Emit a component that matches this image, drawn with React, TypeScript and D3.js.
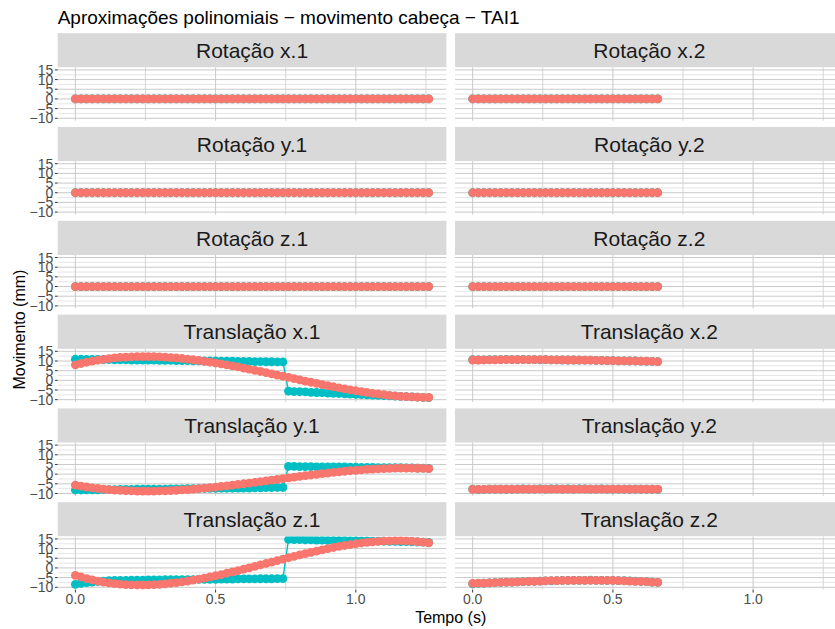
import React from "react";
import * as d3 from "d3";

// ---------------- data ----------------
const STEP = 0.02;
const timeRun1 = d3.range(64).map((i) => Math.round(i * STEP * 100) / 100);
const timeRun2 = d3.range(34).map((i) => Math.round(i * STEP * 100) / 100);

const facetNames = ["Rotação x", "Rotação y", "Rotação z", "Translação x", "Translação y", "Translação z"];
const runSuffixes = [".1", ".2"];
const seriesNames = ["medido", "aproximação"];
const seriesColors = ["#00BFC4", "#F8766D"];

const yLimits = [-10, 15];
const yTickValues = [-10, -5, 0, 5, 10, 15];
const yTickLabels = ["\u221210", "\u22125", "0", "5", "10", "15"];
const xTickValues = [0, 0.5, 1.0];
const xTickLabels = ["0.0", "0.5", "1.0"];

const rotationRun1 = Array(64).fill(0);
const rotationRun2 = Array(34).fill(0);

const transX1Observed = [
  10.9, 10.9, 10.8, 10.8, 10.8, 10.7, 10.7, 10.6, 10.6, 10.6, 10.5, 10.5, 10.4, 10.4, 10.4, 10.3, 10.3, 10.3, 10.2,
  10.2, 10.2, 10.1, 10.1, 10.0, 10.0, 10.0, 9.9, 9.9, 9.9, 9.8, 9.8, 9.8, 9.7, 9.7, 9.6, 9.6, 9.5, 9.5,
  -5.6, -5.8, -5.9, -6.0, -6.2, -6.3, -6.4, -6.6, -6.7, -6.8, -7.0, -7.1, -7.2, -7.4, -7.5, -7.6, -7.8, -7.9, -8.0,
  -8.2, -8.3, -8.4, -8.6, -8.7, -8.8, -8.9,
];
const transX1Fitted = [
  8.0, 8.71, 9.36, 9.93, 10.44, 10.88, 11.26, 11.57, 11.83, 12.03, 12.17, 12.26, 12.3, 12.29, 12.23, 12.12, 11.97,
  11.78, 11.55, 11.28, 10.97, 10.63, 10.26, 9.85, 9.42, 8.96, 8.48, 7.98, 7.45, 6.91, 6.34, 5.77, 5.18, 4.58, 3.97,
  3.36, 2.74, 2.11, 1.49, 0.86, 0.24, -0.38, -0.99, -1.59, -2.18, -2.76, -3.32, -3.87, -4.39, -4.9, -5.39, -5.85,
  -6.29, -6.7, -7.07, -7.42, -7.73, -8.01, -8.25, -8.45, -8.6, -8.72, -8.78, -8.8,
];
const transY1Observed = [
  -8.2, -8.2, -8.1, -8.1, -8.1, -8.0, -8.0, -8.0, -7.9, -7.9, -7.9, -7.8, -7.8, -7.8, -7.7, -7.7, -7.7, -7.6, -7.6,
  -7.6, -7.5, -7.5, -7.5, -7.4, -7.4, -7.4, -7.3, -7.3, -7.3, -7.2, -7.2, -7.2, -7.1, -7.1, -7.0, -7.0, -6.9, -6.9,
  4.0, 4.0, 3.9, 3.9, 3.9, 3.8, 3.8, 3.8, 3.7, 3.7, 3.7, 3.6, 3.6, 3.5, 3.5, 3.5, 3.4, 3.4, 3.3, 3.3, 3.3, 3.2, 3.2,
  3.1, 3.1, 3.0,
];
const transY1Fitted = [
  -5.7, -6.21, -6.66, -7.07, -7.43, -7.75, -8.02, -8.25, -8.43, -8.58, -8.69, -8.76, -8.79, -8.8, -8.76, -8.7, -8.61,
  -8.49, -8.34, -8.16, -7.97, -7.75, -7.5, -7.24, -6.96, -6.67, -6.35, -6.03, -5.69, -5.34, -4.98, -4.61, -4.24,
  -3.86, -3.48, -3.09, -2.7, -2.32, -1.93, -1.55, -1.18, -0.81, -0.44, -0.09, 0.25, 0.58, 0.9, 1.2, 1.48, 1.75, 2.0,
  2.23, 2.43, 2.61, 2.77, 2.9, 3.0, 3.07, 3.11, 3.12, 3.09, 3.03, 2.94, 2.8,
];
const transZ1Observed = [
  -8.5, -8.0, -7.6, -7.3, -7.0, -6.8, -6.6, -6.5, -6.4, -6.4, -6.3, -6.3, -6.3, -6.2, -6.2, -6.2, -6.1, -6.1, -6.1,
  -6.0, -6.0, -6.0, -5.9, -5.9, -5.9, -5.9, -5.8, -5.8, -5.8, -5.7, -5.7, -5.7, -5.7, -5.6, -5.6, -5.6, -5.5, -5.5,
  14.7, 14.6, 14.6, 14.5, 14.5, 14.4, 14.4, 14.3, 14.3, 14.2, 14.2, 14.1, 14.1, 14.0, 14.0, 13.9, 13.9, 13.8, 13.7,
  13.7, 13.6, 13.6, 13.5, 13.4, 13.3, 13.2,
];
const transZ1Fitted = [
  -3.8, -4.69, -5.48, -6.19, -6.8, -7.33, -7.77, -8.13, -8.41, -8.62, -8.76, -8.82, -8.82, -8.76, -8.64, -8.45,
  -8.21, -7.92, -7.58, -7.2, -6.76, -6.29, -5.78, -5.24, -4.66, -4.05, -3.41, -2.75, -2.07, -1.38, -0.66, 0.06, 0.8,
  1.55, 2.29, 3.04, 3.79, 4.53, 5.27, 5.99, 6.71, 7.4, 8.08, 8.74, 9.37, 9.98, 10.56, 11.1, 11.6, 12.07, 12.5, 12.89,
  13.22, 13.51, 13.74, 13.92, 14.04, 14.09, 14.1, 14.01, 13.88, 13.65, 13.37, 13.01,
];
const transX2Observed = [
  10.7, 10.6, 10.6, 10.7, 10.7, 10.7, 10.8, 10.7, 10.7, 10.8, 10.7, 10.7, 10.6, 10.7, 10.6, 10.6, 10.5, 10.5, 10.5,
  10.4, 10.4, 10.4, 10.3, 10.3, 10.2, 10.2, 10.1, 10.1, 10.0, 10.0, 9.9, 9.8, 9.8, 9.7,
];
const transX2Fitted = [
  10.5, 10.5, 10.6, 10.6, 10.6, 10.7, 10.7, 10.7, 10.7, 10.7, 10.7, 10.7, 10.7, 10.7, 10.6, 10.6, 10.6, 10.5, 10.5,
  10.5, 10.4, 10.4, 10.3, 10.3, 10.2, 10.2, 10.1, 10.1, 10.0, 10.0, 9.9, 9.9, 9.8, 9.7,
];
const transY2Observed = [
  -7.8, -8.0, -7.9, -7.8, -7.8, -7.7, -7.8, -7.7, -7.7, -7.6, -7.7, -7.7, -7.6, -7.7, -7.6, -7.6, -7.7, -7.6, -7.7,
  -7.6, -7.6, -7.7, -7.7, -7.6, -7.7, -7.7, -7.7, -7.7, -7.8, -7.7, -7.8, -7.8, -7.8, -7.9,
];
const transY2Fitted = [
  -7.9, -7.9, -7.9, -7.8, -7.8, -7.8, -7.8, -7.8, -7.7, -7.7, -7.7, -7.7, -7.7, -7.7, -7.7, -7.7, -7.7, -7.7, -7.7,
  -7.7, -7.7, -7.7, -7.7, -7.7, -7.7, -7.7, -7.7, -7.8, -7.8, -7.8, -7.8, -7.8, -7.8, -7.8,
];
const transZ2Observed = [
  -8.2, -8.0, -7.8, -7.7, -7.6, -7.5, -7.4, -7.3, -7.2, -7.1, -7.0, -6.9, -6.8, -6.7, -6.7, -6.6, -6.5, -6.5, -6.4,
  -6.4, -6.4, -6.3, -6.4, -6.4, -6.5, -6.5, -6.6, -6.6, -6.7, -6.8, -7.0, -7.1, -7.3, -7.5,
];
const transZ2Fitted = [
  -8.0, -7.9, -7.8, -7.7, -7.6, -7.5, -7.4, -7.3, -7.2, -7.1, -7.0, -6.9, -6.8, -6.7, -6.6, -6.6, -6.5, -6.5, -6.4,
  -6.4, -6.4, -6.4, -6.4, -6.4, -6.5, -6.5, -6.6, -6.7, -6.8, -6.9, -7.0, -7.1, -7.3, -7.5,
];

// [row][col] -> [observed, fitted]
const panelSeries: number[][][][] = [
  [[rotationRun1, rotationRun1], [rotationRun2, rotationRun2]],
  [[rotationRun1, rotationRun1], [rotationRun2, rotationRun2]],
  [[rotationRun1, rotationRun1], [rotationRun2, rotationRun2]],
  [[transX1Observed, transX1Fitted], [transX2Observed, transX2Fitted]],
  [[transY1Observed, transY1Fitted], [transY2Observed, transY2Fitted]],
  [[transZ1Observed, transZ1Fitted], [transZ2Observed, transZ2Fitted]],
];
const runTimes = [timeRun1, timeRun2];

const titleText = "Aproximações polinomiais \u2212 movimento cabeça \u2212 TAI1";
const xTitle = "Tempo (s)";
const yTitle = "Movimento (mm)";

// ---------------- layout ----------------
const W = 835;
const H = 629;
const COL_X = [57.7, 455];
const PANEL_W = 388.7;
const FIRST_STRIP = 33.2;
const ROW_PITCH = 93.8;
const STRIP_H = 34.3;
const PANEL_H = 53.2;
const FONT = "'Liberation Sans', Arial, Helvetica, sans-serif";

export default function App() {
  const allX = runTimes.flat();
  const [x0, x1] = d3.extent(allX) as [number, number];
  const xPad = (x1 - x0) * 0.05;
  const yPad = (yLimits[1] - yLimits[0]) * 0.05;
  const x = d3.scaleLinear().domain([x0 - xPad, x1 + xPad]).range([0, PANEL_W]);
  const y = d3.scaleLinear().domain([yLimits[0] - yPad, yLimits[1] + yPad]).range([PANEL_H, 0]);

  const yMinor = d3.range(yTickValues.length - 1).map((i) => (yTickValues[i] + yTickValues[i + 1]) / 2);
  const xMinor = [
    ...d3.range(xTickValues.length - 1).map((i) => (xTickValues[i] + xTickValues[i + 1]) / 2),
    xTickValues[xTickValues.length - 1] + (xTickValues[1] - xTickValues[0]) / 2,
  ].filter((v) => v <= x.domain()[1]);

  const line = d3
    .line<[number, number]>()
    .x((d) => x(d[0]))
    .y((d) => y(d[1]));

  const panelsOut: React.ReactNode[] = [];
  facetNames.forEach((name, row) => {
    runSuffixes.forEach((suf, col) => {
      const left = COL_X[col];
      const stripTop = FIRST_STRIP + row * ROW_PITCH;
      const top = stripTop + STRIP_H;
      const times = runTimes[col];
      const clipId = `clip-${row}-${col}`;
      panelsOut.push(
        <g key={clipId}>
          <rect x={left} y={stripTop} width={PANEL_W} height={STRIP_H} fill="#D9D9D9" />
          <text
            x={left + PANEL_W / 2}
            y={stripTop + STRIP_H / 2}
            dy="0.36em"
            textAnchor="middle"
            fontSize={21}
            fill="#1A1A1A"
          >
            {name + suf}
          </text>
          <g transform={`translate(${left},${top})`}>
            <clipPath id={clipId}>
              <rect x={0} y={0} width={PANEL_W} height={PANEL_H} />
            </clipPath>
            <rect x={0} y={0} width={PANEL_W} height={PANEL_H} fill="#FFFFFF" />
            {yMinor.map((v) => (
              <line key={"ym" + v} x1={0} x2={PANEL_W} y1={y(v)} y2={y(v)} stroke="#DADADA" strokeWidth={0.7} />
            ))}
            {xMinor.map((v) => (
              <line key={"xm" + v} x1={x(v)} x2={x(v)} y1={0} y2={PANEL_H} stroke="#D2D2D2" strokeWidth={0.9} />
            ))}
            {yTickValues.map((v) => (
              <line key={"yM" + v} x1={0} x2={PANEL_W} y1={y(v)} y2={y(v)} stroke="#C9C9C9" strokeWidth={1} />
            ))}
            {xTickValues.map((v) => (
              <line key={"xM" + v} x1={x(v)} x2={x(v)} y1={0} y2={PANEL_H} stroke="#C9C9C9" strokeWidth={1} />
            ))}
            <g clipPath={`url(#${clipId})`}>
              {panelSeries[row][col].map((vals, s) => {
                const pts = times.map((t, i) => [t, vals[i]] as [number, number]);
                return (
                  <g key={seriesNames[s]}>
                    <path d={line(pts) || ""} fill="none" stroke={seriesColors[s]} strokeWidth={1.4} />
                    {pts.map((p, i) => (
                      <circle key={i} cx={x(p[0])} cy={y(p[1])} r={4.4} fill={seriesColors[s]} />
                    ))}
                  </g>
                );
              })}
            </g>
            {col === 0 &&
              yTickValues.map((v, i) => (
                <g key={"yt" + v}>
                  <line x1={-2.8} x2={0} y1={y(v)} y2={y(v)} stroke="#333333" strokeWidth={1} />
                  <text x={-4.4} y={y(v)} dy="0.36em" textAnchor="end" fontSize={14} fill="#4D4D4D">
                    {yTickLabels[i]}
                  </text>
                </g>
              ))}
            {row === facetNames.length - 1 &&
              xTickValues.map((v, i) => (
                <g key={"xt" + v}>
                  <line x1={x(v)} x2={x(v)} y1={PANEL_H} y2={PANEL_H + 2.8} stroke="#333333" strokeWidth={1} />
                  <text x={x(v)} y={PANEL_H + 14.6} textAnchor="middle" fontSize={14} fill="#4D4D4D">
                    {xTickLabels[i]}
                  </text>
                </g>
              ))}
          </g>
        </g>
      );
    });
  });

  const panelsTop = FIRST_STRIP + STRIP_H;
  const panelsBottom = FIRST_STRIP + (facetNames.length - 1) * ROW_PITCH + STRIP_H + PANEL_H;

  return (
    <svg
      width={W}
      height={H}
      viewBox={`0 0 ${W} ${H}`}
      style={{ position: "absolute", left: 0, top: 0, display: "block", background: "#FFFFFF" }}
      fontFamily={FONT}
    >
      <rect x={0} y={0} width={W} height={H} fill="#FFFFFF" />
      <text x={COL_X[0]} y={24} fontSize={19} fill="#000000">
        {titleText}
      </text>
      {panelsOut}
      <text x={(COL_X[0] + COL_X[1] + PANEL_W) / 2} y={623} textAnchor="middle" fontSize={16} fill="#000000">
        {xTitle}
      </text>
      <text
        transform={`translate(25,${(panelsTop + panelsBottom) / 2 + 1}) rotate(-90)`}
        textAnchor="middle"
        fontSize={16}
        fill="#000000"
      >
        {yTitle}
      </text>
    </svg>
  );
}
